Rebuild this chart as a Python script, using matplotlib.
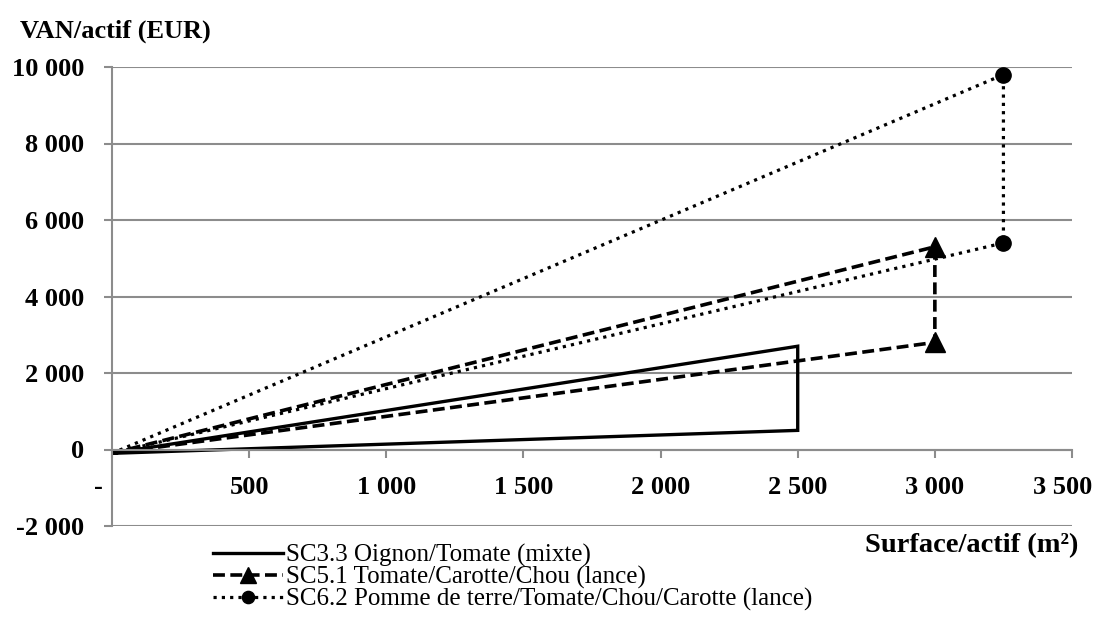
import matplotlib
matplotlib.use("Agg")
import matplotlib.pyplot as plt
import matplotlib.transforms as mtransforms
from matplotlib.ticker import FixedLocator, FixedFormatter

# ---- data ----
labels = ["SC3.3 Oignon/Tomate (mixte)",
          "SC5.1 Tomate/Carotte/Chou (lance)",
          "SC6.2 Pomme de terre/Tomate/Chou/Carotte (lance)"]
sc33_x = [0, 2500, 2500, 0]
sc33_y = [-100, 2700, 500, -100]
sc51_x = [0, 3000, 3000, 0]
sc51_y = [-100, 5300, 2800, -100]
sc62_x = [0, 3250, 3250, 0]
sc62_y = [-100, 9800, 5400, -100]

x_ticks = [0, 500, 1000, 1500, 2000, 2500, 3000, 3500]
x_ticklabels = ["-", "500", "1 000", "1 500", "2 000", "2 500", "3 000", "3 500"]
y_ticks = [-2000, 0, 2000, 4000, 6000, 8000, 10000]
y_ticklabels = ["-2 000", "0", "2 000", "4 000", "6 000", "8 000", "10 000"]

plt.rcParams['font.family'] = ['Liberation Serif', 'DejaVu Serif']

fig = plt.figure(figsize=(10.99, 6.26), dpi=100)
ax = fig.add_axes([112/1099, 1-526/626, (1072-112)/1099, (526-67)/626])

grid_c = '#8c8c8c'
l1, = ax.plot(sc33_x, sc33_y, color='black', lw=2.4, solid_joinstyle='miter', label=labels[0])
l2, = ax.plot(sc51_x, sc51_y, color='black', lw=2.6, linestyle=(0, (3.3, 1.5)),
              marker='^', markersize=14, markevery=[1, 2], label=labels[1])
l3, = ax.plot(sc62_x, sc62_y, color='black', lw=2.3, linestyle=(0, (1, 1.6)),
              marker='o', markersize=11, markevery=[1, 2], label=labels[2])

ax.set_xlim(0, 3500)
ax.set_ylim(-2000, 10000)

ax.yaxis.set_major_locator(FixedLocator(y_ticks))
ax.yaxis.set_major_formatter(FixedFormatter(y_ticklabels))
ax.xaxis.set_major_locator(FixedLocator(x_ticks))
ax.xaxis.set_major_formatter(FixedFormatter(x_ticklabels))

ax.grid(axis='y', color=grid_c, lw=1.5)
ax.set_axisbelow(True)
for s in ['top', 'right']:
    ax.spines[s].set_visible(False)
ax.spines['bottom'].set_position(('data', 0))
ax.spines['bottom'].set_color(grid_c)
ax.spines['bottom'].set_linewidth(1.5)
ax.spines['left'].set_color(grid_c)
ax.spines['left'].set_linewidth(1.5)

ax.tick_params(axis='both', direction='out', length=6, width=1.5, color=grid_c,
               labelsize=19)
ax.tick_params(axis='y', pad=14)
ax.tick_params(axis='x', pad=13)
for t in ax.get_xticklabels() + ax.get_yticklabels():
    t.set_fontweight('bold')

# shift the "-" zero label left and the last label inward like the original
xl = ax.get_xticklabels()
xl[0].set_transform(xl[0].get_transform() + mtransforms.ScaledTranslation(-14/100, 0, fig.dpi_scale_trans))
xl[-1].set_transform(xl[-1].get_transform() + mtransforms.ScaledTranslation(-9/100, 0, fig.dpi_scale_trans))

fig.text(20/1099, 1-31/626, "VAN/actif (EUR)", fontsize=19, fontweight='bold',
         ha='left', va='center')
fig.text(1078/1099, 1-546/626, "Surface/actif (m²)", fontsize=20.5, fontweight='bold',
         ha='right', va='center')

leg = fig.legend(handles=[l1, l2, l3], loc='upper left',
                 bbox_to_anchor=(213/1099, 1-544/626), frameon=False,
                 fontsize=18, handlelength=2.8, handletextpad=0.12,
                 labelspacing=-0.04, borderpad=0, borderaxespad=0,
                 markerscale=0.8)

fig.savefig("out.png", dpi=100)
